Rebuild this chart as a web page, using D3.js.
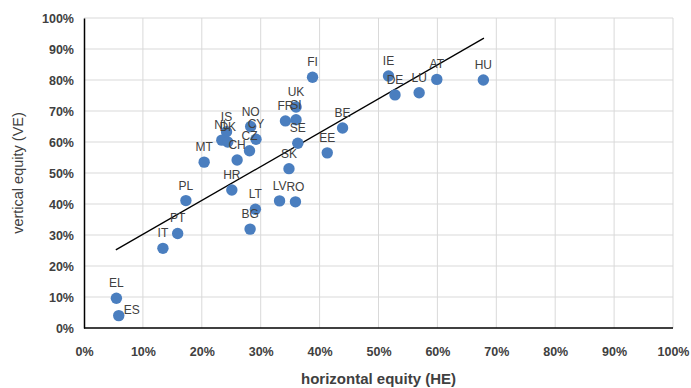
<!DOCTYPE html>
<html><head><meta charset="utf-8">
<script src="https://cdn.jsdelivr.net/npm/d3@7"></script>
<style>body{margin:0;background:#fff;}svg{display:block;font-family:"Liberation Sans",Arial,sans-serif;}</style>
</head><body><svg id="c" width="691" height="388"></svg>
<script>
const countries = ["EL","ES","IT","PT","PL","HR","BG","LT","MT","CH","CZ","CY","NO","IS","NL","DK","FI","UK","SI","FR","SE","SK","EE","BE","LV","RO","IE","DE","LU","AT","HU"];
const heValues = [0.055,0.059,0.134,0.159,0.173,0.251,0.282,0.291,0.204,0.260,0.281,0.292,0.283,0.242,0.234,0.244,0.388,0.360,0.360,0.342,0.363,0.348,0.413,0.439,0.332,0.359,0.517,0.528,0.569,0.599,0.678];
const veValues = [0.096,0.040,0.257,0.305,0.411,0.445,0.319,0.383,0.535,0.542,0.572,0.609,0.650,0.633,0.606,0.600,0.809,0.713,0.672,0.668,0.596,0.514,0.565,0.645,0.410,0.407,0.813,0.752,0.759,0.802,0.800];
const labelSide = {"ES":"right"};
const trendHE = [0.054,0.679];
const trendVE = [0.252,0.935];
const xTicks = d3.range(0,1.0001,0.1);
const yTicks = d3.range(0,1.0001,0.1);

const svg = d3.select("#c");
const m = {l:84,r:18,t:18,b:60};
const W = 691, H = 388;
const x = d3.scaleLinear().domain([0,1]).range([m.l, W-m.r]);
const y = d3.scaleLinear().domain([0,1]).range([H-m.b, m.t]);
const fmt = d3.format(".0%");

// grid
svg.append("g").selectAll("line").data(yTicks.slice(1)).join("line")
  .attr("x1",m.l).attr("x2",W-m.r).attr("y1",d=>y(d)).attr("y2",d=>y(d))
  .attr("stroke","#d9d9d9").attr("stroke-width",1);
svg.append("g").selectAll("line").data(xTicks.slice(1)).join("line")
  .attr("y1",m.t).attr("y2",H-m.b).attr("x1",d=>x(d)).attr("x2",d=>x(d))
  .attr("stroke","#d9d9d9").attr("stroke-width",1);

// axes
const xa = svg.append("g").attr("transform",`translate(0,${H-m.b})`)
  .call(d3.axisBottom(x).tickValues(xTicks).tickFormat(fmt).tickSize(0).tickPadding(19));
const ya = svg.append("g").attr("transform",`translate(${m.l},0)`)
  .call(d3.axisLeft(y).tickValues(yTicks).tickFormat(fmt).tickSize(0).tickPadding(10));
[xa,ya].forEach(a=>{a.select(".domain").attr("stroke","#000").attr("stroke-width",1.5);
  a.selectAll("text").attr("fill","#404040").attr("font-size",12.5).attr("font-weight","bold");});
xa.select(".domain").attr("d",`M${m.l},0H${W-m.r}`);

// trend line
svg.append("line").attr("x1",x(trendHE[0])).attr("y1",y(trendVE[0]))
  .attr("x2",x(trendHE[1])).attr("y2",y(trendVE[1]))
  .attr("stroke","#000").attr("stroke-width",1.3);

const data = countries.map((c,i)=>({c, he:heValues[i], ve:veValues[i]}));
svg.append("g").selectAll("circle").data(data).join("circle")
  .attr("cx",d=>x(d.he)).attr("cy",d=>y(d.ve)).attr("r",5.7).attr("fill","#4a7ebf");
svg.append("g").selectAll("text").data(data).join("text")
  .attr("x",d=>labelSide[d.c]==="right"?x(d.he)+5:x(d.he))
  .attr("y",d=>labelSide[d.c]==="right"?y(d.ve)-2:y(d.ve)-11)
  .attr("text-anchor",d=>labelSide[d.c]==="right"?"start":"middle")
  .attr("font-size",12).attr("fill","#404040").text(d=>d.c);

// titles
svg.append("text").attr("x",(m.l+W-m.r)/2).attr("y",384).attr("text-anchor","middle")
  .attr("font-size",15).attr("font-weight","bold").attr("fill","#404040").text("horizontal equity (HE)");
svg.append("text").attr("transform",`translate(23,${(m.t+H-m.b)/2}) rotate(-90)`)
  .attr("text-anchor","middle").attr("font-size",14.5).attr("fill","#404040").text("vertical equity (VE)");
</script></body></html>
